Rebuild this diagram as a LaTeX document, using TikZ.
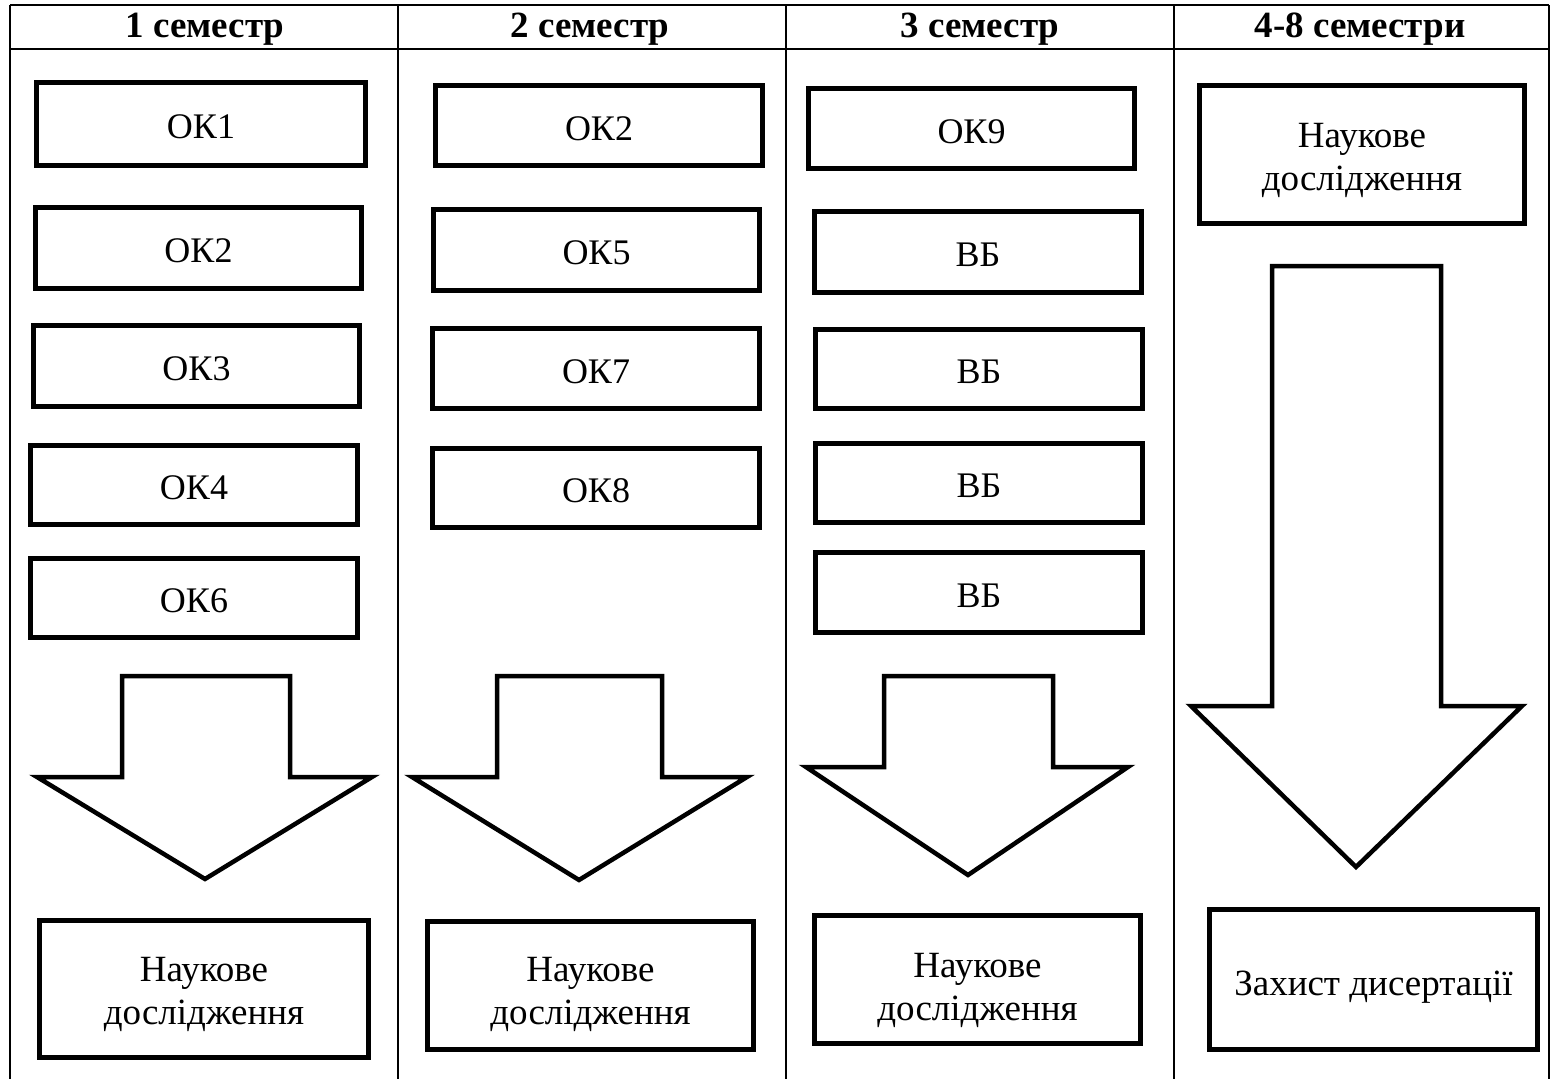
\documentclass[tikz,border=0pt]{standalone}
\usepackage{fontspec}
\setmainfont{Liberation Serif}
\begin{document}
\begin{tikzpicture}[x=1pt,y=-1pt]
\tikzset{
 tbl/.style={line width=2pt},
 cbox/.style={draw, line width=5pt, rectangle, inner sep=0pt},
 ctxt/.style={inner sep=0pt, align=center, font=\fontsize{36}{42}\selectfont},
 rtxt/.style={inner sep=0pt, align=center, font=\fontsize{37}{43}\selectfont},
 hdr/.style={font=\fontsize{37}{40}\selectfont\bfseries, inner sep=0pt},
 bigarrow/.style={draw, line width=4.5pt, line join=miter}
}
\useasboundingbox (0,0) rectangle (1551,1079);
% table
\draw[tbl] (10,5) -- (1549,5);
\draw[tbl] (10,49) -- (1549,49);
\draw[tbl] (10,5) -- (10,1079);
\draw[tbl] (398,5) -- (398,1079);
\draw[tbl] (786,5) -- (786,1079);
\draw[tbl] (1174,5) -- (1174,1079);
\draw[tbl] (1549,5) -- (1549,1079);
% headers
\node[hdr] (h1) at (205,29) {1 семестр};
\node[hdr] (h2) at (590,29) {2 семестр};
\node[hdr] (h3) at (980,29) {3 семестр};
\node[hdr] (h4) at (1360,29) {4-8 семестри};
% column 1
\node[cbox, minimum width=329pt, minimum height=83pt] (a1) at (201,124) {};
\node[cbox, minimum width=326pt, minimum height=81pt] (a2) at (198.5,248) {};
\node[cbox, minimum width=326pt, minimum height=81pt] (a3) at (196.5,366) {};
\node[cbox, minimum width=327pt, minimum height=79pt] (a4) at (194,485) {};
\node[cbox, minimum width=327pt, minimum height=79pt] (a5) at (194,598) {};
\node[cbox, minimum width=329pt, minimum height=137pt] (a6) at (204,989) {};
\node[ctxt] (a1t) at ([yshift=-3pt]a1.center) {ОК1};
\node[ctxt] (a2t) at ([yshift=-3pt]a2.center) {ОК2};
\node[ctxt] (a3t) at ([yshift=-3pt]a3.center) {ОК3};
\node[ctxt] (a4t) at ([yshift=-3pt]a4.center) {ОК4};
\node[ctxt] (a5t) at ([yshift=-3pt]a5.center) {ОК6};
\node[rtxt] (a6t) at ([yshift=-5pt]a6.center) {Наукове\\дослідження};
% column 2
\node[cbox, minimum width=327pt, minimum height=80pt] (b1) at (599,125.5) {};
\node[cbox, minimum width=326pt, minimum height=81pt] (b2) at (596.5,250) {};
\node[cbox, minimum width=327pt, minimum height=80pt] (b3) at (596,368.5) {};
\node[cbox, minimum width=327pt, minimum height=79pt] (b4) at (596,488) {};
\node[cbox, minimum width=326pt, minimum height=128pt] (b5) at (590.5,985.5) {};
\node[ctxt] (b1t) at ([yshift=-3pt]b1.center) {ОК2};
\node[ctxt] (b2t) at ([yshift=-3pt]b2.center) {ОК5};
\node[ctxt] (b3t) at ([yshift=-3pt]b3.center) {ОК7};
\node[ctxt] (b4t) at ([yshift=-3pt]b4.center) {ОК8};
\node[rtxt] (b5t) at ([yshift=-9pt]b5.center) {Наукове\\дослідження};
% column 3
\node[cbox, minimum width=326pt, minimum height=80pt] (c1) at (971.5,128.5) {};
\node[cbox, minimum width=327pt, minimum height=81pt] (c2) at (978,252) {};
\node[cbox, minimum width=327pt, minimum height=79pt] (c3) at (979,369) {};
\node[cbox, minimum width=327pt, minimum height=79pt] (c4) at (979,483) {};
\node[cbox, minimum width=327pt, minimum height=80pt] (c5) at (979,592.5) {};
\node[cbox, minimum width=326pt, minimum height=128pt] (c6) at (977.5,979.5) {};
\node[ctxt] (c1t) at ([yshift=-3pt]c1.center) {ОК9};
\node[ctxt] (c2t) at ([yshift=-3pt]c2.center) {ВБ};
\node[ctxt] (c3t) at ([yshift=-3pt]c3.center) {ВБ};
\node[ctxt] (c4t) at ([yshift=-3pt]c4.center) {ВБ};
\node[ctxt] (c5t) at ([yshift=-3pt]c5.center) {ВБ};
\node[rtxt] (c6t) at ([yshift=-11pt]c6.center) {Наукове\\дослідження};
% column 4
\node[cbox, minimum width=325pt, minimum height=138pt] (d1) at (1362,154.5) {};
\node[cbox, minimum width=328pt, minimum height=140pt] (d2) at (1373.5,979.5) {};
\node[rtxt] (d1t) at ([yshift=-6pt]d1.center) {Наукове\\дослідження};
\node[rtxt] (d2t) at ([yshift=-8pt]d2.center) {Захист дисертації};
% block arrows
\draw[bigarrow] (122,676) -- (290,676) -- (290,777) -- (372,777) -- (205,879) -- (37,777) -- (122,777) -- cycle;
\draw[bigarrow] (497,676) -- (662,676) -- (662,777) -- (747,777) -- (579,880) -- (412,777) -- (497,777) -- cycle;
\draw[bigarrow] (884,676) -- (1053,676) -- (1053,767) -- (1128,767) -- (968,875) -- (806,767) -- (884,767) -- cycle;
\draw[bigarrow] (1272,266) -- (1441,266) -- (1441,706) -- (1522,706) -- (1356,867) -- (1191,706) -- (1272,706) -- cycle;
\end{tikzpicture}
\end{document}
